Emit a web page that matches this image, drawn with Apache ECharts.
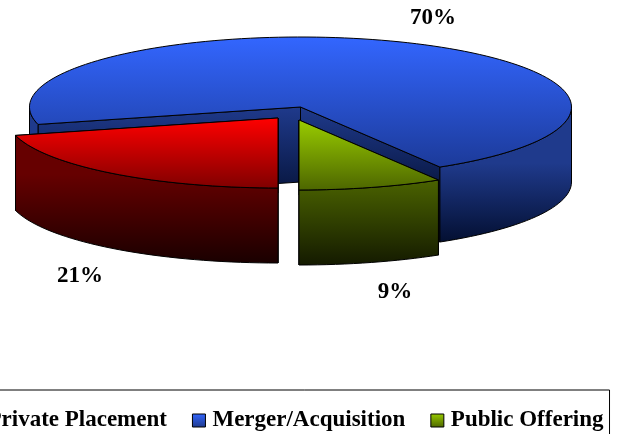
<!DOCTYPE html>
<html><head><meta charset="utf-8">
<style>html,body{margin:0;padding:0;background:#fff}#c{width:621px;height:434px}</style>
<script src="https://cdn.jsdelivr.net/npm/echarts@6/dist/echarts.min.js"></script>
</head><body><div id="c"></div>
<script>
const categories = ['Private Placement', 'Merger/Acquisition', 'Public Offering'];
const shares = [21.0, 70.4, 8.6];
const labelOffsets = [[80, 276], [433, 18], [395, 292]];
const pivots = [[278, 118], [300.5, 107], [299, 120]];
const topColors = [['#ff0000', '#800000'], ['#3366ff', '#1c3a99'], ['#99cc00', '#4d6600']];
const wallColors = [['#660000', '#1a0000'], ['#1f3a8c', '#000a26'], ['#4d6600', '#141a00']];
const drawOrder = [1, 0, 2];
const RX = 271, RY = 70, DEPTH = 75, START = 90;

const FONT = '"Liberation Serif", serif';
const chart = echarts.init(document.getElementById('c'));
const total = shares.reduce((a, b) => a + b, 0);
let cum = START;
const spans = shares.map(v => { const a = cum; cum += v / total * 360; return [a, cum]; });
const grad = (y1, y2, c) => ({ type: 'linear', x: 0, y: y1, x2: 0, y2: y2, global: true,
  colorStops: [{ offset: 0, color: c[0] }, { offset: 1, color: c[1] }] });
const pt = (p, deg, dy) => { const r = deg * Math.PI / 180;
  return [p[0] + RX * Math.cos(r), p[1] + RY * Math.sin(r) + (dy || 0)]; };
function arc(p, a, b) { const o = []; const n = Math.max(2, Math.ceil(Math.abs(b - a) / 2));
  for (let i = 0; i <= n; i++) o.push(pt(p, a + (b - a) * i / n)); return o; }
const stroke = { stroke: '#000', lineWidth: 1 };

function renderSlice(i, params, api) {
  const p = pivots[i];
  const share = api.value(0);
  const a = spans[i][0]; const b = a + share / total * 360;
  const kids = [];
  const wallFill = grad(p[1] + RY * 0.8, p[1] + RY + DEPTH, wallColors[i]);
  // radial walls of the slice
  [a, b].forEach(t => { const e = pt(p, t);
    kids.push({ type: 'polygon', shape: { points: [p, e, [e[0], e[1] + DEPTH], [p[0], p[1] + DEPTH]] },
      style: { fill: grad(p[1], p[1] + DEPTH * 1.5, wallColors[i]), ...stroke } }); });
  // outer rim: only the part that faces the viewer
  [[0, 180], [360, 540]].forEach(r => {
    const s = Math.max(a, r[0]), f = Math.min(b, r[1]);
    if (f > s) { const top = arc(p, s, f);
      const low = top.slice().reverse().map(q => [q[0], q[1] + DEPTH]);
      kids.push({ type: 'polygon', shape: { points: top.concat(low) }, style: { fill: wallFill, ...stroke } }); }
  });
  // top face: the gradient runs over the face's own visible height
  const facePts = [p].concat(arc(p, a, b));
  const ys = facePts.map(q => q[1]);
  kids.push({ type: 'polygon', shape: { points: facePts },
    style: { fill: grad(Math.min(...ys), Math.max(...ys), topColors[i]), ...stroke } });
  // percent label
  kids.push({ type: 'text', style: { x: labelOffsets[i][0], y: labelOffsets[i][1], text: Math.round(share / total * 100) + '%',
    fill: '#000', font: 'bold 23px ' + FONT, align: 'center', verticalAlign: 'middle' } });
  return { type: 'group', children: kids };
}

chart.setOption({
  animation: false,
  backgroundColor: '#fff',
  legend: {
    left: -39, top: 390, orient: 'horizontal', width: 700,
    padding: [19, 6, 30, 6], borderColor: '#000', borderWidth: 1, borderRadius: 0,
    itemWidth: 13, itemHeight: 13, itemGap: 25, icon: 'rect',
    selectedMode: false,
    textStyle: { fontFamily: FONT, fontWeight: 'bold', fontSize: 23, color: '#000', padding: [0, 0, 0, 2] },
    data: categories.map((n, i) => ({ name: n,
      itemStyle: { borderColor: '#000', borderWidth: 1,
        color: { type: 'linear', x: 0, y: 0, x2: 0, y2: 1,
          colorStops: [{ offset: 0, color: topColors[i][0] }, { offset: 1, color: wallColors[i][0] }] } } }))
  },
  series: drawOrder.map(i => ({
    type: 'custom', name: categories[i], coordinateSystem: 'none', silent: true,
    data: [[shares[i]]], encode: { value: 0 }, renderItem: (params, api) => renderSlice(i, params, api)
  }))
});
</script></body></html>
